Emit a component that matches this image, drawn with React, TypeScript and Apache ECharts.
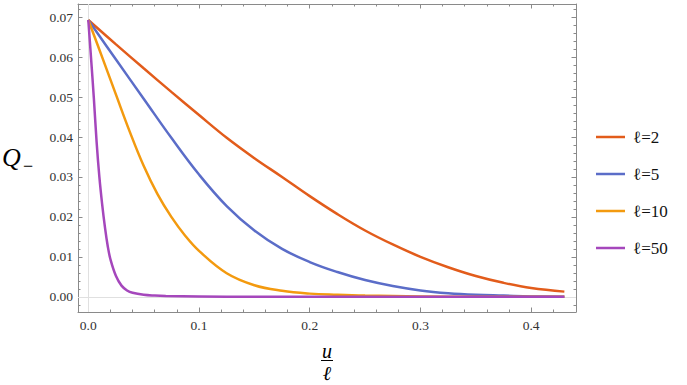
import React, { useEffect, useRef } from "react";
import * as echarts from "echarts";

// ---- data ----
const X_L2 = [0, 0.025, 0.05, 0.075, 0.1, 0.125, 0.15, 0.175, 0.2, 0.225, 0.25, 0.275, 0.3, 0.325, 0.35, 0.375, 0.4, 0.43];
const Q_L2 = [0.0693, 0.0632, 0.0572, 0.0513, 0.0455, 0.0398, 0.0347, 0.0300, 0.0252, 0.0207, 0.0166, 0.0131, 0.0100, 0.0074, 0.0052, 0.0035, 0.0022, 0.0013];

const X_L5 = [0, 0.025, 0.05, 0.075, 0.1, 0.125, 0.15, 0.175, 0.2, 0.225, 0.25, 0.275, 0.3, 0.325, 0.35, 0.375, 0.4, 0.43];
const Q_L5 = [0.0693, 0.0594, 0.0496, 0.0398, 0.0306, 0.0227, 0.0166, 0.0120, 0.0087, 0.0062, 0.0042, 0.0027, 0.0016, 0.0009, 0.0005, 0.0003, 0.0001, 0.0];

const X_L10 = [0, 0.0125, 0.025, 0.0375, 0.05, 0.0625, 0.075, 0.0875, 0.1, 0.125, 0.15, 0.175, 0.2, 0.225, 0.25, 0.3, 0.35, 0.43];
const Q_L10 = [0.0693, 0.0600, 0.0506, 0.0413, 0.0328, 0.0257, 0.0200, 0.0153, 0.0115, 0.0059, 0.0029, 0.0015, 0.0008, 0.0005, 0.0003, 0.0001, 0.0, 0.0];

const X_L50 = [0, 0.0025, 0.005, 0.0075, 0.01, 0.0125, 0.015, 0.0175, 0.02, 0.025, 0.03, 0.035, 0.04, 0.05, 0.06, 0.07, 0.1, 0.15, 0.43];
const Q_L50 = [0.0693, 0.0597, 0.0498, 0.0388, 0.0300, 0.0232, 0.0175, 0.0128, 0.0094, 0.0052, 0.0028, 0.0016, 0.0010, 0.0005, 0.0003, 0.0002, 0.0001, 0.0, 0.0];

const SERIES_NAMES = ["ℓ=2", "ℓ=5", "ℓ=10", "ℓ=50"];
const SERIES_COLORS = ["#E25C1B", "#5B6DC8", "#F39A0F", "#A547BC"];

const X_MAJOR = [0, 0.1, 0.2, 0.3, 0.4];
const X_MINOR = [0.02, 0.04, 0.06, 0.08, 0.12, 0.14, 0.16, 0.18, 0.22, 0.24, 0.26, 0.28, 0.32, 0.34, 0.36, 0.38, 0.42];
const Y_MAJOR = [0, 0.01, 0.02, 0.03, 0.04, 0.05, 0.06, 0.07];
const Y_MINOR = [-0.002, 0.002, 0.004, 0.006, 0.008, 0.012, 0.014, 0.016, 0.018, 0.022, 0.024, 0.026, 0.028, 0.032, 0.034, 0.036, 0.038, 0.042, 0.044, 0.046, 0.048, 0.052, 0.054, 0.056, 0.058, 0.062, 0.064, 0.066, 0.068, 0.072];

const X_MIN = -0.0093;
const X_MAX = 0.4405;
const Y_MIN = -0.0038;
const Y_MAX = 0.0733;

const FRAME = "#8a8a8a";
const SERIF = "Liberation Serif";

export default function App() {
  const ref = useRef<HTMLDivElement>(null);
  useEffect(() => {
    if (!ref.current) return;
    const chart = echarts.init(ref.current, null, { renderer: "svg" });
    const pairs = (xs: number[], ys: number[]) => xs.map((x, i) => [x, ys[i]]);
    const seriesData = [pairs(X_L2, Q_L2), pairs(X_L5, Q_L5), pairs(X_L10, Q_L10), pairs(X_L50, Q_L50)];

    const mkX = (pos: string, values: number[], len: number, labels: boolean, line: boolean) => ({
      type: "value",
      position: pos,
      min: X_MIN,
      max: X_MAX,
      axisLine: { show: line, onZero: false, lineStyle: { color: FRAME, width: 1 } },
      axisTick: { show: true, inside: true, length: len, customValues: values, lineStyle: { color: FRAME, width: 1 } },
      axisLabel: labels
        ? { show: true, customValues: values, formatter: (v: number) => v.toFixed(1), color: "#333", fontFamily: SERIF, fontSize: 13.5, margin: 6 }
        : { show: false },
      splitLine: { show: false },
    });
    const mkY = (pos: string, values: number[], len: number, labels: boolean, line: boolean) => ({
      type: "value",
      position: pos,
      min: Y_MIN,
      max: Y_MAX,
      axisLine: { show: line, onZero: false, lineStyle: { color: FRAME, width: 1 } },
      axisTick: { show: true, inside: true, length: len, customValues: values, lineStyle: { color: FRAME, width: 1 } },
      axisLabel: labels
        ? { show: true, customValues: values, formatter: (v: number) => v.toFixed(2), color: "#333", fontFamily: SERIF, fontSize: 13.5, margin: 5 }
        : { show: false },
      splitLine: { show: false },
    });

    chart.setOption({
      animation: false,
      backgroundColor: "#fff",
      textStyle: { fontFamily: SERIF },
      grid: { left: 78, top: 4, right: 111, bottom: 73, containLabel: false },
      xAxis: [
        mkX("bottom", X_MAJOR, 4.5, true, true),
        mkX("bottom", X_MINOR, 2.5, false, false),
        mkX("top", X_MAJOR, 4.5, false, true),
        mkX("top", X_MINOR, 2.5, false, false),
      ],
      yAxis: [
        mkY("left", Y_MAJOR, 4.5, true, true),
        mkY("left", Y_MINOR, 2.5, false, false),
        mkY("right", Y_MAJOR, 4.5, false, true),
        mkY("right", Y_MINOR, 2.5, false, false),
      ],
      legend: SERIES_NAMES.map((n, i) => ({
        data: [n],
        orient: "vertical",
        left: 596,
        top: 128.5 + i * 37,
        padding: 0,
        icon: "rect",
        itemWidth: 29,
        itemHeight: 2.5,
        itemGap: 10,
        textStyle: { fontFamily: SERIF, fontSize: 17, color: "#111", padding: [0, 0, 0, 3] },
        selectedMode: false,
      })),
      series: SERIES_NAMES.map((n, i) => ({
        name: n,
        type: "line",
        data: seriesData[i],
        xAxisIndex: 0,
        yAxisIndex: 0,
        symbol: "none",
        smooth: 0.4,
        lineStyle: { color: SERIES_COLORS[i], width: 2.5 },
        itemStyle: { color: SERIES_COLORS[i] },
        z: 3 + i,
        markLine:
          i === 0
            ? {
                silent: true,
                symbol: "none",
                label: { show: false },
                lineStyle: { color: "#e0e0e0", width: 1, type: "solid" },
                data: [{ xAxis: 0 }, { yAxis: 0 }],
                z: 1,
              }
            : undefined,
      })),
      graphic: [
        { type: "text", x: 2, y: 157, style: { text: "Q", fontFamily: SERIF, fontStyle: "italic", fontSize: 26, fill: "#000", verticalAlign: "middle", align: "left" } },
        { type: "text", x: 23, y: 166, style: { text: "−", fontFamily: SERIF, fontSize: 18, fill: "#000", verticalAlign: "middle", align: "left" } },
        { type: "text", x: 327, y: 350.5, style: { text: "u", fontFamily: SERIF, fontStyle: "italic", fontSize: 20, fill: "#000", verticalAlign: "middle", align: "center" } },
        { type: "line", shape: { x1: 321, y1: 360.5, x2: 333, y2: 360.5 }, style: { stroke: "#000", lineWidth: 1 } },
        { type: "text", x: 327, y: 373.4, style: { text: "ℓ", fontFamily: SERIF, fontStyle: "italic", fontSize: 20, fill: "#000", verticalAlign: "middle", align: "center" } },
      ],
    });
    return () => chart.dispose();
  }, []);
  return <div ref={ref} style={{ position: "fixed", left: 0, top: 0, width: 687, height: 385 }} />;
}
